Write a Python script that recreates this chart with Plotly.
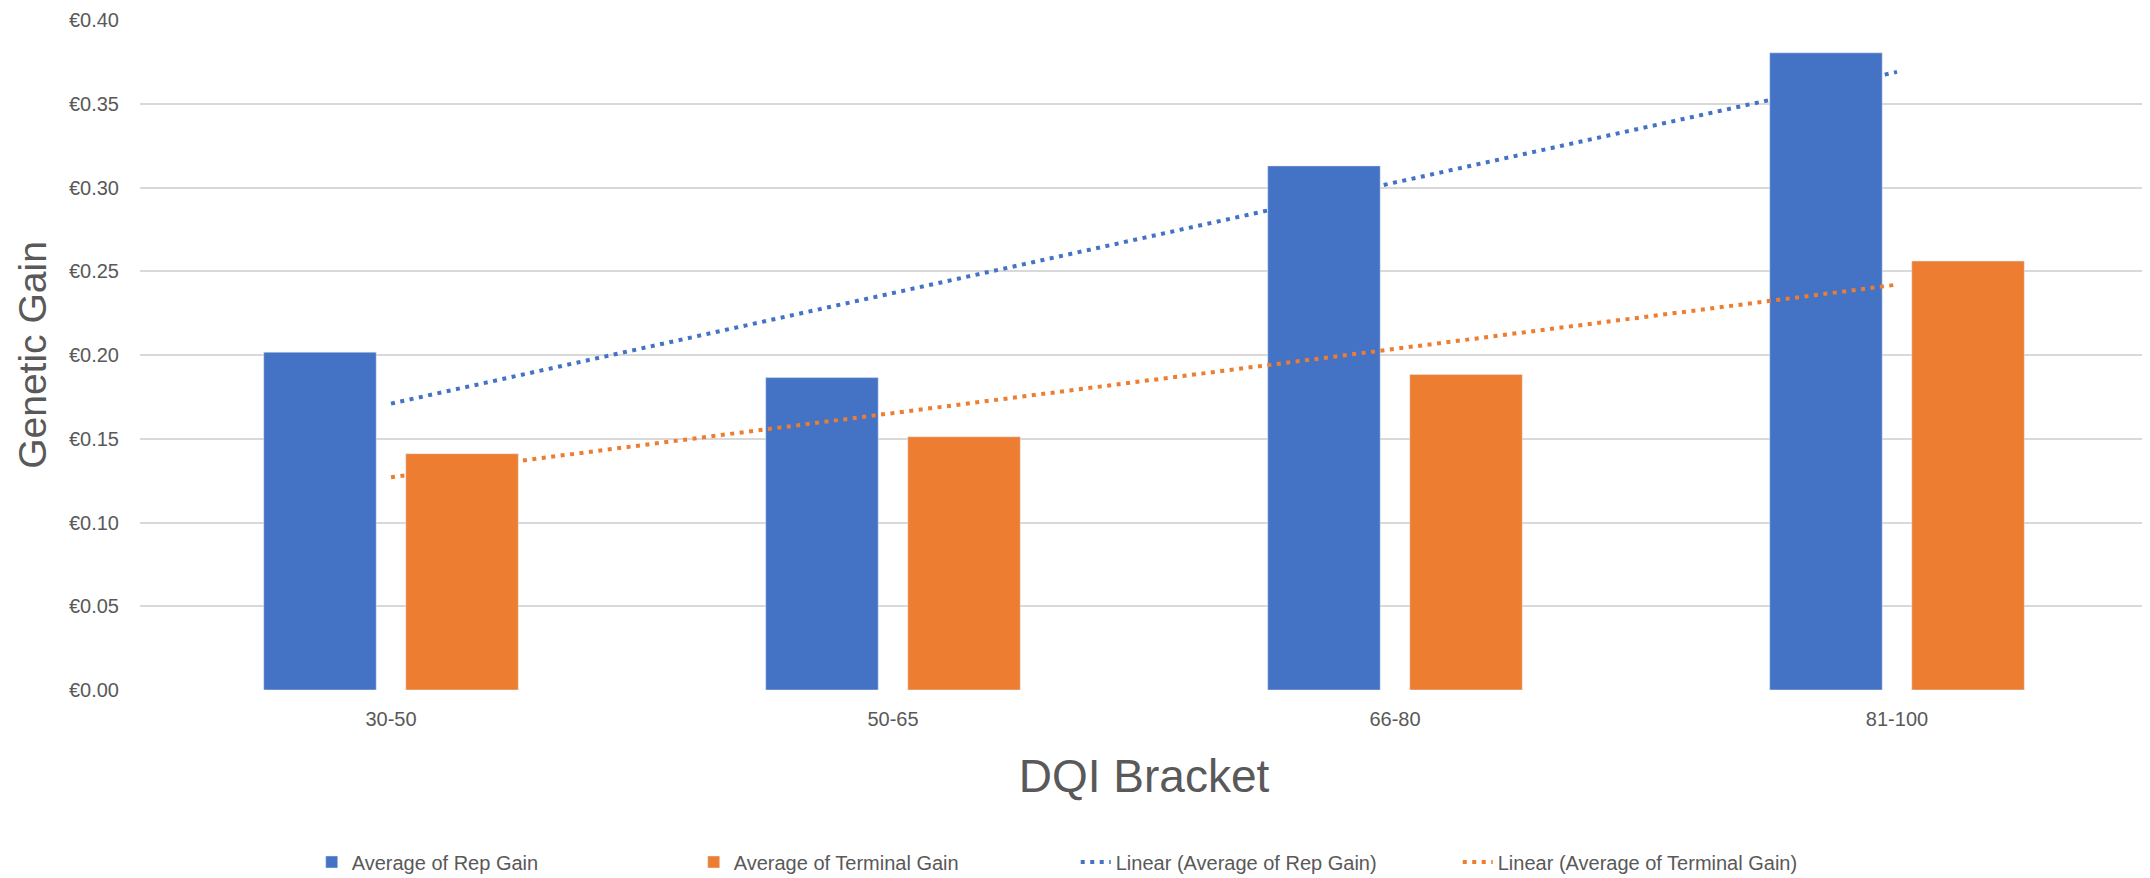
import plotly.graph_objects as go

# data
brackets = ["30-50", "50-65", "66-80", "81-100"]
rep_gain = [0.2017, 0.1865, 0.3129, 0.3804]
terminal_gain = [0.1411, 0.1512, 0.1884, 0.2561]

# linear trendline end points (first and last bracket)
trend_x = ["30-50", "81-100"]
rep_trend = [0.171, 0.369]
terminal_trend = [0.127, 0.242]

BLUE = "#4472C4"
ORANGE = "#ED7D31"
GREY_TEXT = "#595959"
FONT = "Liberation Sans, Arial, sans-serif"

fig = go.Figure()

fig.add_trace(go.Bar(x=brackets, y=rep_gain, name="Average of Rep Gain",
                     marker=dict(color=BLUE)))
fig.add_trace(go.Bar(x=brackets, y=terminal_gain, name="Average of Terminal Gain",
                     marker=dict(color=ORANGE)))

fig.add_trace(go.Scatter(x=trend_x, y=rep_trend, mode="lines",
                         name="Linear (Average of Rep Gain)",
                         line=dict(color=BLUE, width=4, dash="4px,5.5px")))
fig.add_trace(go.Scatter(x=trend_x, y=terminal_trend, mode="lines",
                         name="Linear (Average of Terminal Gain)",
                         line=dict(color=ORANGE, width=4, dash="4px,5.5px")))

# the page body has an 8px margin, so the figure sits 8px in from the window edge
fig.update_layout(
    width=2142,
    height=870,
    margin=dict(l=132, r=2, t=12, b=188),
    paper_bgcolor="white",
    plot_bgcolor="white",
    barmode="group",
    bargap=0.434,
    bargroupgap=0.208,
    font=dict(family=FONT, color=GREY_TEXT, size=20),
    legend=dict(
        orientation="h",
        x=0.466, xanchor="center",
        yref="container",
        y=0.0184, yanchor="middle",
        font=dict(size=20, color=GREY_TEXT),
        traceorder="normal",
        entrywidth=337,
        entrywidthmode="pixels",
    ),
)

fig.update_xaxes(
    type="category",
    automargin=False,
    showgrid=False,
    showline=False,
    zeroline=False,
    ticks="",
    ticklabelstandoff=15,
    tickfont=dict(size=20, color=GREY_TEXT),
    title=dict(text="DQI Bracket", font=dict(size=46, color=GREY_TEXT), standoff=30),
)

fig.update_yaxes(
    range=[0, 0.40],
    dtick=0.05,
    tickprefix="€",
    tickformat=".2f",
    automargin=False,
    ticklabeloverflow="allow",
    showgrid=True,
    gridcolor="#D9D9D9",
    gridwidth=1.5,
    zeroline=False,
    showline=False,
    ticks="",
    ticklabelstandoff=20,
    tickfont=dict(size=20, color=GREY_TEXT),
    title=dict(text="Genetic Gain", font=dict(size=39, color=GREY_TEXT), standoff=10),
)

fig.write_html("out.html")
